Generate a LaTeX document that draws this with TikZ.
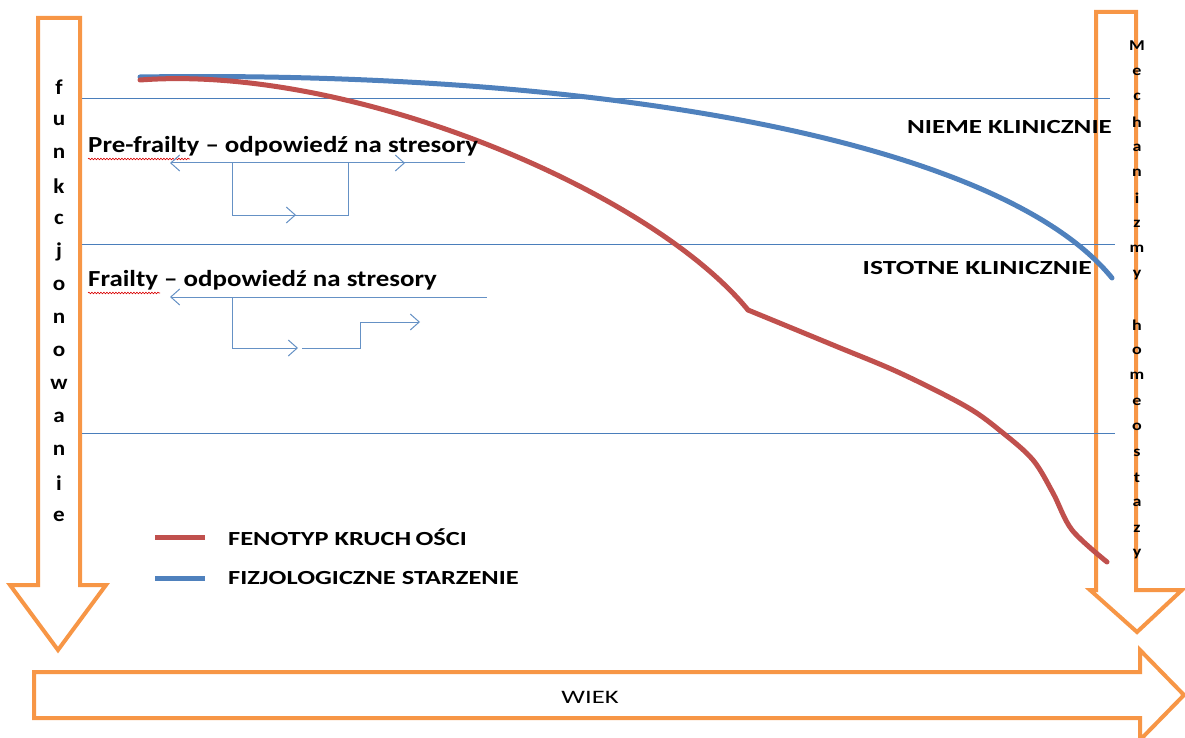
\documentclass[tikz,border=0pt]{standalone}
\usepackage{fontspec}
\setmainfont{Carlito}
\usetikzlibrary{arrows.meta,decorations.pathmorphing}
\definecolor{orng}{HTML}{F79646}
\definecolor{bluec}{HTML}{4F81BD}
\definecolor{redc}{HTML}{C0504D}
\definecolor{thin}{HTML}{4A7EBB}
\newcommand{\hsc}[2]{\scalebox{#1}[1]{#2}}
\tikzset{
  bigarrow/.style={draw=orng,line width=4pt,fill=white,line join=miter},
  level/.style={draw=thin,line width=0.8pt},
  flow/.style={draw=thin!85!white,line width=1pt,>={Straight Barb[length=9pt,width=16pt]}},
  curve/.style={line width=5pt,line cap=round,line join=round},
  vlet/.style={font=\bfseries\fontsize{21}{21}\selectfont,inner sep=0pt},
  rlet/.style={font=\bfseries\fontsize{15}{15}\selectfont,inner sep=0pt},
  lbl/.style={font=\bfseries\fontsize{23}{23}\selectfont,inner sep=0pt},
  zone/.style={font=\bfseries\fontsize{20}{20}\selectfont,inner sep=0pt},
  leg/.style={font=\bfseries\fontsize{20}{20}\selectfont,inner sep=0pt},
  squig/.style={draw=red!85!black,line width=0.6pt,decorate,decoration={snake,amplitude=0.8pt,segment length=3pt}}
}
\begin{document}
\begin{tikzpicture}[x=1pt,y=-1pt]
\useasboundingbox (0,0) rectangle (1185,738);
\begin{scope}
\clip (0,0) rectangle (1185,738);
% big arrows
\draw[bigarrow] (38,18) -- (80,18) -- (80,585) -- (106,585) -- (58,650) -- (10,585) -- (38,585) -- cycle;
\draw[bigarrow] (1096,12) -- (1136,12) -- (1136,590) -- (1182,590) -- (1137,632) -- (1090,590) -- (1096,590) -- cycle;
\draw[bigarrow] (34,672) -- (1140,672) -- (1140,650) -- (1184,695) -- (1140,740) -- (1140,718) -- (34,718) -- cycle;
\end{scope}
\node[font=\fontsize{19}{19}\selectfont,inner sep=0pt] (wiek) at (590,697) {\hsc{1.4}{WIEK}};
% vertical letters left
\foreach \l [count=\i from 0] in {f,u,n,k,c,j,o,n,o,w,a,n,i,e}
  \node[vlet] (L\i) at (59,{87+\i*33}) {\hsc{1.1}{\l}};
% vertical letters right
\foreach \l [count=\i from 0] in {M,e,c,h,a,n,i,z,m,y,{},h,o,m,e,o,s,t,a,z,y}
  \node[rlet] (R\i) at (1137,{46+\i*25.4}) {\hsc{1.2}{\l}};
% level lines
\coordinate (a1) at (82,98);  \coordinate (b1) at (1110,98);
\coordinate (a2) at (82,244); \coordinate (b2) at (1115,244);
\coordinate (a3) at (82,433); \coordinate (b3) at (1115,433);
\draw[level] (a1) -- (b1);
\draw[level] (a2) -- (b2);
\draw[level] (a3) -- (b3);
% zone labels
\node[zone,anchor=east] (nieme) at (1112,127) {\hsc{1.35}{NIEME KLINICZNIE}};
\node[zone,anchor=east] (istotne) at (1092,268) {\hsc{1.38}{ISTOTNE KLINICZNIE}};
% curves
\coordinate (bs) at (140,77); \coordinate (be) at (1112,278);
\coordinate (rs) at (140,80); \coordinate (rk) at (748,310);
\draw[curve,bluec] (bs) .. controls (600,70) and (1000,140) .. (be);
\draw[curve,redc] (rs) .. controls (350,64) and (650,190) .. (rk);
\draw[curve,redc] plot[smooth,tension=0.55] coordinates {(748,310) (833,345) (900,373) (967,407) (1003,433) (1033,460) (1053,493) (1072,530) (1107,562)};
% pre-frailty
\node[lbl,anchor=west] (pre) at (88,146) {\hsc{1.17}{Pre-frailty -- odpowiedź na stresory}};
\draw[squig] (88,159) -- (190,159);
\coordinate (p0) at (170,163); \coordinate (p1) at (465,163);
\coordinate (p2) at (232,163); \coordinate (p3) at (232,215);
\coordinate (p4) at (348,215); \coordinate (p5) at (348,163);
\coordinate (p6) at (405,163); \coordinate (p7) at (296,215);
\draw[flow,<-] (p0) -- (p1);
\draw[flow,->] (p5) -- (p6);
\draw[flow] (p2) -- (p3) -- (p4) -- (p5);
\draw[flow,->] (p3) -- (p7);
% frailty
\node[lbl,anchor=west] (fr) at (88,280) {\hsc{1.17}{Frailty -- odpowiedź na stresory}};
\draw[squig] (88,293) -- (160,293);
\coordinate (f0) at (170,297); \coordinate (f1) at (487,297);
\coordinate (f2) at (232,297); \coordinate (f3) at (232,348);
\coordinate (f4) at (298,348); \coordinate (f5) at (302,348);
\coordinate (f6) at (360,348); \coordinate (f7) at (360,322);
\coordinate (f8) at (420,322);
\draw[flow,<-] (f0) -- (f1);
\draw[flow,->] (f2) -- (f3) -- (f4);
\draw[flow,->] (f5) -- (f6) -- (f7) -- (f8);
% legend
\coordinate (r0) at (155,537); \coordinate (r1) at (205,537);
\coordinate (s0) at (155,578); \coordinate (s1) at (205,578);
\draw[redc,line width=5pt] (r0) -- (r1);
\draw[bluec,line width=5pt] (s0) -- (s1);
\node[leg,anchor=west] (lg1) at (228,537) {\hsc{1.32}{FENOTYP KRUCH\,OŚCI}};
\node[leg,anchor=west] (lg2) at (228,578) {\hsc{1.32}{FIZJOLOGICZNE STARZENIE}};
\end{tikzpicture}
\end{document}
